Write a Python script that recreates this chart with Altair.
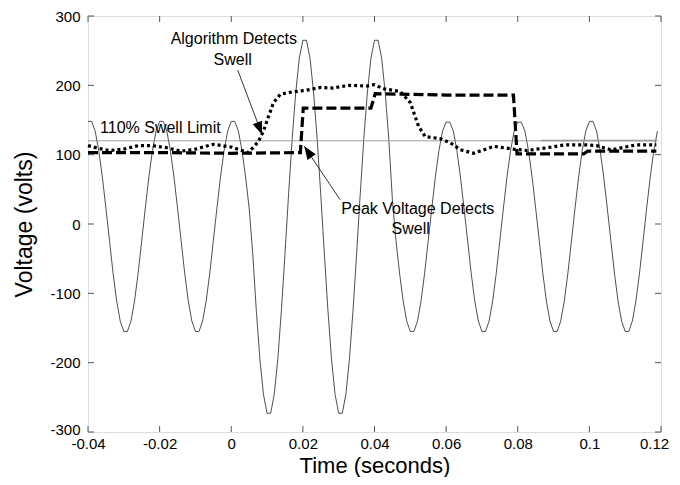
import altair as alt
import numpy as np
import pandas as pd

# ---- sampled voltage waveform (1 ms samples from -0.040 s to 0.119 s) ----
wave_t = np.round(np.arange(-40, 120) / 1000.0, 3)
wave_v = [
    148, 148, 134, 106, 68, 23, -24, -71, -111, -140, -155, -155, -140, -111, -71, -24, 23, 68, 106, 134,
    148, 148, 134, 106, 68, 23, -24, -71, -111, -140, -155, -155, -140, -111, -71, -24, 23, 68, 106, 134,
    148, 148, 134, 106, 68, 23, -43, -125, -195, -246, -273, -273, -246, -195, -125, -43, 42, 122, 189, 239,
    265, 265, 239, 189, 122, 42, -43, -125, -195, -246, -273, -273, -246, -195, -125, -43, 42, 122, 189, 239,
    265, 265, 239, 189, 122, 35, -24, -71, -111, -140, -155, -155, -140, -111, -71, -24, 23, 68, 106, 134,
    147, 147, 134, 106, 68, 23, -24, -71, -111, -140, -155, -155, -140, -111, -71, -24, 23, 68, 106, 134,
    147, 147, 134, 106, 68, 23, -24, -71, -111, -140, -155, -155, -140, -111, -71, -24, 23, 68, 106, 134,
    148, 148, 134, 106, 68, 23, -24, -71, -111, -140, -155, -155, -140, -111, -71, -24, 23, 68, 106, 134,
]

# ---- algorithm output (dotted) ----
algo_t = [-0.040, -0.037, -0.034, -0.030, -0.026, -0.022, -0.018, -0.014, -0.010, -0.005, 0.000,
          0.0048, 0.0076, 0.0090, 0.0104, 0.0118, 0.0137, 0.0165, 0.0211, 0.0249, 0.0285, 0.0304,
          0.0332, 0.0379, 0.0398, 0.0426, 0.0472, 0.0500, 0.0523, 0.0542, 0.0584, 0.0612, 0.0640,
          0.0677, 0.0733, 0.0789, 0.0826, 0.0882, 0.0930, 0.0993, 0.1020, 0.1060, 0.1130, 0.1187]
algo_v = [113, 109, 106, 108, 113, 113, 110, 105, 108, 115, 111,
          103, 119, 134, 155, 175, 187, 190, 193, 197, 196, 198,
          200, 199, 201, 195, 191, 175, 141, 126, 123, 117, 107,
          102, 112, 108, 106, 110, 114, 114, 113, 107, 114, 114]

# ---- peak voltage detector (dashed) ----
peak_t = [-0.040, -0.020, 0.000, 0.0193, 0.0201, 0.0300, 0.0390, 0.0402, 0.0600, 0.0788, 0.0798,
          0.0900, 0.0984, 0.0995, 0.1187]
peak_v = [103, 103, 102, 103, 167, 167, 167, 188, 186, 186, 101, 101, 101, 105, 105]

# ---- 110% swell limit ----
limit_t = [-0.040, 0.119]
limit_v = [120, 120]
limit2_t = [0.0865, 0.119]
limit2_v = [120.5, 120.5]

# ---- annotations ----
label_text = ["Algorithm Detects", "Swell", "110% Swell Limit", "Peak Voltage Detects", "Swell"]
label_t = [0.0007, 0.0004, -0.0198, 0.0521, 0.0501]
label_v = [267, 237, 139, 21, -7]

arrow_t = [0.0018, 0.0304]
arrow_v = [222, 35]
arrow_tip_t = [0.0086, 0.0204]
arrow_tip_v = [129, 112]
arrow_angle = [159, 326]

x_ticks = [-0.04, -0.02, 0, 0.02, 0.04, 0.06, 0.08, 0.1, 0.12]
y_ticks = [-300, -200, -100, 0, 100, 200, 300]

FONT = "Liberation Sans"
W, H = 573, 416

wave_df = pd.DataFrame({"t": wave_t, "v": wave_v})
algo_df = pd.DataFrame({"t": algo_t, "v": algo_v})
peak_df = pd.DataFrame({"t": peak_t, "v": peak_v})
limit_df = pd.DataFrame({"t": limit_t, "v": limit_v})
limit2_df = pd.DataFrame({"t": limit2_t, "v": limit2_v})
label_df = pd.DataFrame({"t": label_t, "v": label_v, "text": label_text})
arrow_df = pd.DataFrame({"t": arrow_t, "v": arrow_v, "t2": arrow_tip_t, "v2": arrow_tip_v,
                         "angle": arrow_angle})
xt_df = pd.DataFrame({"t": x_ticks})
yt_df = pd.DataFrame({"v": y_ticks})

xscale = alt.Scale(domain=[-0.04, 0.12], nice=False, zero=False)
yscale = alt.Scale(domain=[-300, 300], nice=False, zero=False)

x_axis = alt.Axis(values=x_ticks, labelExpr="'' + datum.value", title="Time (seconds)",
                  grid=False, ticks=False, domain=False, labelFont=FONT, labelFontSize=15,
                  labelColor="black", labelPadding=4, titleFont=FONT, titleFontSize=22,
                  titleFontWeight="normal", titleColor="black",
                  titleBaseline="alphabetic", titleY=40,
                  labelOffset={"condition": {"test": "datum.value == 0.12", "value": -7},
                               "value": 0},
                  labelOverlap=False, labelFlush=False)
y_axis = alt.Axis(values=y_ticks, labelExpr="'' + datum.value", title="Voltage (volts)",
                  grid=False, ticks=False, domain=False, labelFont=FONT, labelFontSize=15,
                  labelColor="black", labelPadding=8, titleFont=FONT, titleFontSize=23,
                  titleFontWeight="normal", titleColor="black", titlePadding=13,
                  labelOffset={"condition": {"test": "datum.value == -300", "value": -3}, "value": 0},
                  labelOverlap=False, labelFlush=False)


def X(f="t"):
    return alt.X(f"{f}:Q", scale=xscale, axis=x_axis)


def Y(f="v"):
    return alt.Y(f"{f}:Q", scale=yscale, axis=y_axis)


wave = alt.Chart(wave_df).mark_line(color="#222", strokeWidth=0.8).encode(x=X(), y=Y())
limit = alt.Chart(limit_df).mark_line(color="#888", strokeWidth=0.8).encode(x=X(), y=Y())
limit2 = alt.Chart(limit2_df).mark_line(color="#999", strokeWidth=1.6).encode(x=X(), y=Y())
algo = alt.Chart(algo_df).mark_line(color="black", strokeWidth=3.2, strokeDash=[3, 3]).encode(x=X(), y=Y())
peak = alt.Chart(peak_df).mark_line(color="black", strokeWidth=3.2, strokeDash=[10, 4]).encode(x=X(), y=Y())

arrows = alt.Chart(arrow_df).mark_rule(color="black", strokeWidth=0.8).encode(
    x=X(), y=Y(), x2="t2:Q", y2="v2:Q")
heads = alt.Chart(arrow_df).mark_point(
    shape="M0,0L1,2.6L-1,2.6Z", size=100, filled=True, color="black", opacity=1, strokeWidth=0
).encode(x=X("t2"), y=Y("v2"), angle=alt.Angle("angle:Q", scale=None))

labels = alt.Chart(label_df).mark_text(font=FONT, fontSize=16, color="black", align="center",
                                       baseline="middle").encode(x=X(), y=Y(), text="text:N")

tick_b = alt.Chart(xt_df).mark_rule(color="#555", strokeWidth=1).encode(
    x=X(), y=alt.value(H), y2=alt.value(H - 6))
tick_t = alt.Chart(xt_df).mark_rule(color="#555", strokeWidth=1).encode(
    x=X(), y=alt.value(0), y2=alt.value(6))
tick_l = alt.Chart(yt_df).mark_rule(color="#555", strokeWidth=1).encode(
    y=Y(), x=alt.value(0), x2=alt.value(6))
tick_r = alt.Chart(yt_df).mark_rule(color="#555", strokeWidth=1).encode(
    y=Y(), x=alt.value(W), x2=alt.value(W - 6))

chart = alt.layer(
    wave, limit, limit2, algo, peak, arrows, heads, labels, tick_b, tick_t, tick_l, tick_r
).properties(
    width=W, height=H,
    autosize=alt.AutoSizeParams(type="none"),
    padding={"left": 80, "top": 8, "right": 11, "bottom": 45},
).configure_view(stroke="#555", strokeWidth=1).configure(background="white")

chart.save("out.html", embed_options={"renderer": "svg", "actions": False})
